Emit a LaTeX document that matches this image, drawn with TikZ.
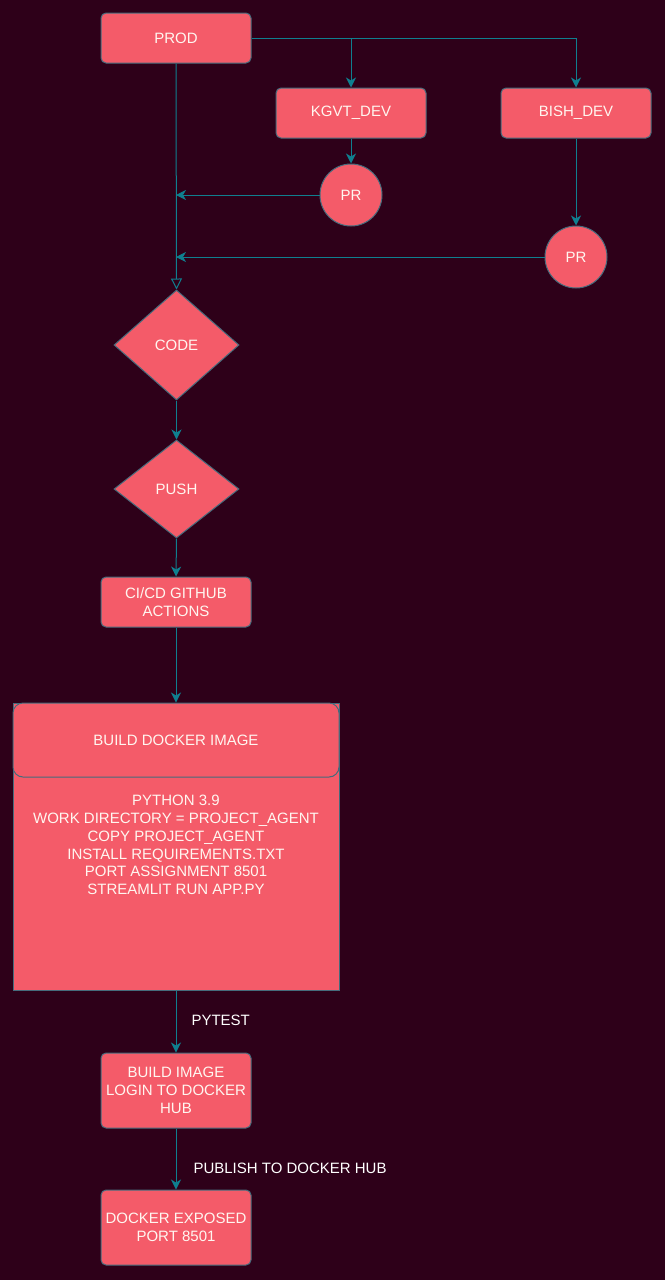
\documentclass[tikz,border=0pt]{standalone}
\usepackage{fontspec}
\setmainfont{Liberation Sans}
\usetikzlibrary{shapes.geometric,arrows.meta}
\definecolor{bgc}{HTML}{2E0019}
\definecolor{fillc}{HTML}{F45B69}
\definecolor{borderc}{HTML}{456B7C}
\definecolor{arrc}{HTML}{0F7F8F}
\definecolor{txtc}{HTML}{FFF6F0}
\tikzset{
  base/.style={draw=borderc, fill=fillc, line width=1pt, text=txtc, align=center,
    font=\fontsize{15}{18}\selectfont, inner sep=0pt},
  box/.style={base, rectangle, rounded corners=5pt, minimum width=150pt, minimum height=50pt},
  tallbox/.style={box, minimum height=75pt},
  prc/.style={base, circle, minimum size=62pt},
  dia/.style={base, diamond, minimum width=125pt},
  arr/.style={draw=arrc, line width=1pt, -{Stealth[length=10pt,width=10pt,inset=3pt]}},
  openarr/.style={draw=arrc, line width=1pt, -{Triangle[open,length=11pt,width=11pt]}},
  lbl/.style={text=white, font=\fontsize{15}{18}\selectfont, inner sep=0pt}
}
\begin{document}
\begin{tikzpicture}[x=1pt,y=-1pt]
\fill[bgc] (0,0) rectangle (665,1280);
\useasboundingbox (0,0) rectangle (665,1280);

\node[box] (prod) at (176,38) {PROD};
\node[box] (kgvt) at (351,113) {KGVT\_DEV};
\node[box] (bish) at (576,113) {BISH\_DEV};
\node[prc] (pr1) at (351,195) {PR};
\node[prc] (pr2) at (576,257) {PR};
\node[dia, minimum height=110pt] (code) at (176.5,345) {CODE};
\node[dia, minimum height=98pt] (push) at (176.5,489) {PUSH};
\node[box] (cicd) at (176,602) {CI/CD GITHUB\\ACTIONS};

% swimlane container
\node[base, rectangle, minimum width=326pt, minimum height=287pt] (build) at (176,846.5) {};
\node[base, rectangle, rounded corners=10pt, minimum width=326pt, minimum height=74pt] (bhead) at (176,740) {BUILD DOCKER IMAGE};
\node[text=txtc, align=center, font=\fontsize{15}{17.8}\selectfont, anchor=north, inner sep=0pt] (bbody) at (176,795)
  {PYTHON 3.9\\WORK DIRECTORY = PROJECT\_AGENT\\COPY PROJECT\_AGENT\\INSTALL REQUIREMENTS.TXT\\PORT ASSIGNMENT 8501\\STREAMLIT RUN APP.PY};

\node[tallbox] (bimg) at (176,1090.5) {BUILD IMAGE\\LOGIN TO DOCKER\\HUB};
\node[tallbox] (dock) at (176,1227.5) {DOCKER EXPOSED\\PORT 8501};

\coordinate (j1) at (kgvt.north |- prod.east);
\coordinate (m1) at (prod.south |- pr1.west);
\coordinate (m2) at (prod.south |- pr2.west);

\draw[arr] (prod.east) -| (bish.north);
\draw[arr] (j1) -- (kgvt.north);
\draw[arr] (kgvt.south) -- (pr1.north);
\draw[arr] (bish.south) -- (pr2.north);
\draw[arr] (pr1.west) -- (m1);
\draw[arr] (pr2.west) -- (m2);
\draw[openarr] (prod.south) -- (code.north);
\draw[arr] (code.south) -- (push.north);
\draw[arr] (push.south) -- (cicd.north);
\draw[arr] (cicd.south) -- (bhead.north);
\draw[arr] (build.south) -- node[lbl, anchor=west, xshift=15pt, yshift=1pt] (l1) {PYTEST} (bimg.north);
\draw[arr] (bimg.south) -- node[lbl, anchor=west, xshift=17pt, yshift=-9pt] (l2) {PUBLISH TO DOCKER HUB} (dock.north);
\end{tikzpicture}
\end{document}
